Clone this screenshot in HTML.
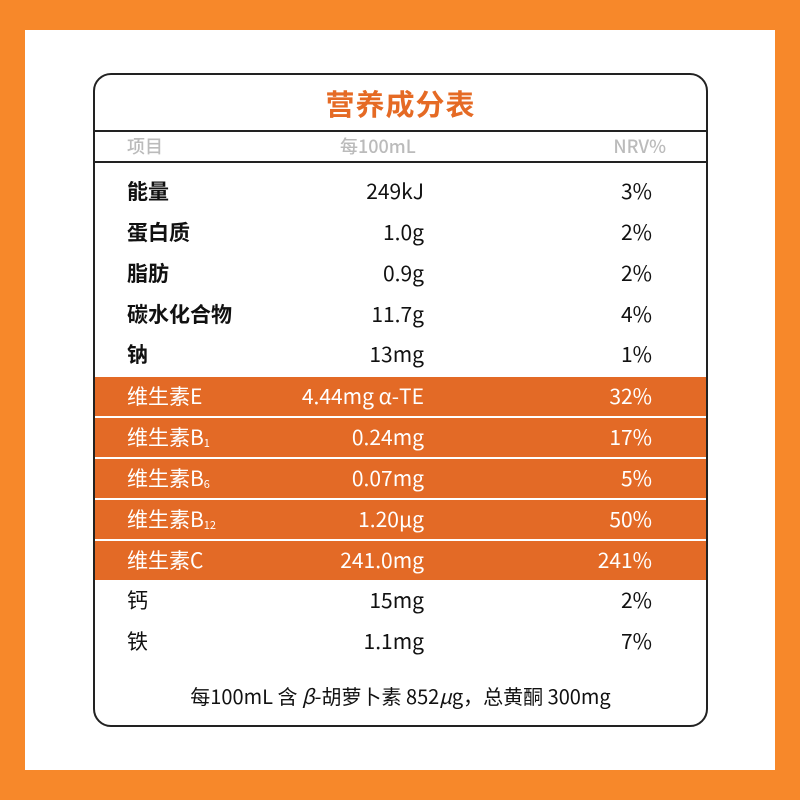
<!DOCTYPE html>
<html><head><meta charset="utf-8"><style>
*{margin:0;padding:0;box-sizing:border-box}
body{width:800px;height:800px;background:#F7882A;position:relative;overflow:hidden;font-family:"Noto Sans CJK SC","Liberation Sans",sans-serif}
.panel{position:absolute;left:25px;top:30px;width:750px;height:740px;background:#fff}
.box{position:absolute;left:93px;top:73px;width:615px;height:654px;border:2px solid #222;border-radius:18px;overflow:hidden}
.title{position:absolute;left:0;width:100%;top:8px;line-height:40px;text-align:center;font-size:29px;font-weight:bold;color:#E56A24;letter-spacing:1px}
.l1{position:absolute;left:0;width:100%;top:55px;height:2px;background:#222}
.l2{position:absolute;left:0;width:100%;top:86px;height:2px;background:#222}
.hdr{position:absolute;top:57px;line-height:29px;font-size:18px;color:#bbb;font-weight:500}
.row{position:absolute;left:0;width:100%;height:39px;line-height:39px;font-size:21px;color:#111}
.row span{position:absolute;top:0;white-space:nowrap}
.a{left:32px}.b{right:282px}.c{right:54px}
.bold .a{font-weight:bold}
.o{background:#E36A26;color:#fff}
sub{font-size:11px;vertical-align:-2px;line-height:0}
.foot{position:absolute;left:0;width:100%;top:606px;line-height:30px;text-align:center;font-size:20px;color:#111}
</style></head><body>
<div class="panel"></div>
<div class="box">
<div class="title">营养成分表</div>
<div class="l1"></div>
<div class="hdr" style="left:32px">项目</div>
<div class="hdr" style="left:245px">每100mL</div>
<div class="hdr" style="right:40px">NRV%</div>
<div class="l2"></div>
<div class="row bold" style="top:97px"><span class="a">能量</span><span class="b">249kJ</span><span class="c">3%</span></div>
<div class="row bold" style="top:138px"><span class="a">蛋白质</span><span class="b">1.0g</span><span class="c">2%</span></div>
<div class="row bold" style="top:179px"><span class="a">脂肪</span><span class="b">0.9g</span><span class="c">2%</span></div>
<div class="row bold" style="top:220px"><span class="a">碳水化合物</span><span class="b">11.7g</span><span class="c">4%</span></div>
<div class="row bold" style="top:260px"><span class="a">钠</span><span class="b">13mg</span><span class="c">1%</span></div>
<div class="row o" style="top:302px"><span class="a">维生素E</span><span class="b">4.44mg α-TE</span><span class="c">32%</span></div>
<div class="row o" style="top:343px"><span class="a">维生素B<sub>1</sub></span><span class="b">0.24mg</span><span class="c">17%</span></div>
<div class="row o" style="top:384px"><span class="a">维生素B<sub>6</sub></span><span class="b">0.07mg</span><span class="c">5%</span></div>
<div class="row o" style="top:425px"><span class="a">维生素B<sub>12</sub></span><span class="b">1.20μg</span><span class="c">50%</span></div>
<div class="row o" style="top:466px"><span class="a">维生素C</span><span class="b">241.0mg</span><span class="c">241%</span></div>
<div class="row" style="top:506px"><span class="a">钙</span><span class="b">15mg</span><span class="c">2%</span></div>
<div class="row" style="top:547px"><span class="a">铁</span><span class="b">1.1mg</span><span class="c">7%</span></div>
<div class="foot">每100mL 含 <i>β</i>-胡萝卜素 852<i>μ</i>g，总黄酮 300mg</div>
</div>
</body></html>
